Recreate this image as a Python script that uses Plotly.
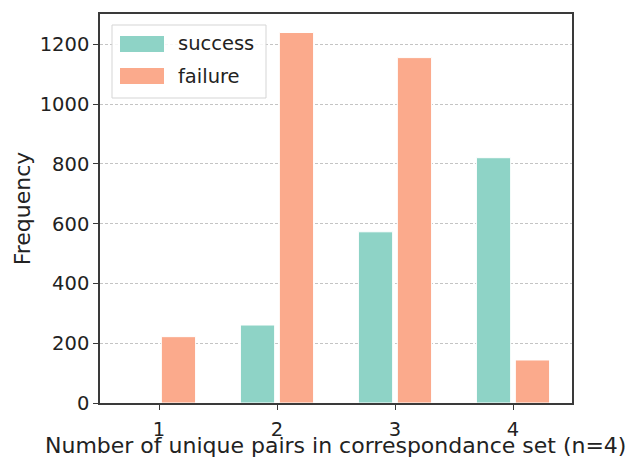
import plotly.graph_objects as go

# Counts of unique pairs in the correspondence set (n=4)
categories = [1, 2, 3, 4]
success = [0, 261, 573, 821]
failure = [222, 1240, 1156, 144]
series_names = ["success", "failure"]
y_ticks = [0, 200, 400, 600, 800, 1000, 1200]
x_title = "Number of unique pairs in correspondance set (n=4)"
y_title = "Frequency"

colors = {"success": "#8ed3c6", "failure": "#fbaa8c"}
font_family = "DejaVu Sans"
text_color = "#222222"
tick_font = dict(family=font_family, size=19.5, color=text_color)
title_font = dict(family=font_family, size=22, color=text_color)

fig = go.Figure()
for name, vals in zip(series_names, [success, failure]):
    fig.add_trace(go.Bar(
        x=categories, y=vals, name=name,
        marker=dict(color=colors[name], line=dict(color="white", width=1)),
        showlegend=False,
    ))

fig.update_layout(
    width=630, height=459,
    margin=dict(l=100, r=58, t=14, b=56),
    paper_bgcolor="white", plot_bgcolor="white",
    barmode="group", bargap=0.34, bargroupgap=0.12,
    font=dict(family=font_family, size=19.5, color=text_color),
)
fig.update_xaxes(
    range=[0.5, 4.5], tickvals=categories, ticktext=[str(c) for c in categories],
    showline=True, linecolor="#3a3a3a", linewidth=1.5, mirror=True,
    ticks="outside", ticklen=5, tickcolor="#3a3a3a", tickwidth=1.2,
    ticklabelstandoff=3, tickfont=tick_font, automargin=False,
    showgrid=False, zeroline=False,
)
fig.update_yaxes(
    range=[0, 1302], tickvals=y_ticks,
    showline=True, linecolor="#3a3a3a", linewidth=1.5, mirror=True,
    ticks="outside", ticklen=5, tickcolor="#3a3a3a", tickwidth=1.2,
    tickfont=tick_font, automargin=False,
    showgrid=True, gridcolor="#c4c4c4", griddash="3px,2px", gridwidth=1,
    zeroline=False,
    title=dict(text=y_title, standoff=3, font=title_font),
)

W, H = 630 - 100 - 58, 459 - 14 - 56

def px(x):
    return (x - 100) / W

def py(y):
    return (459 - 56 - y) / H

# x-axis title placed below the tick labels, anchored to the page bottom
fig.add_annotation(xref="paper", yref="paper", x=px(335), y=py(459),
                   text=x_title, showarrow=False, xanchor="center", yanchor="bottom",
                   borderpad=0, font=title_font)

# Legend box drawn in paper coordinates with wide colour patches
x0, x1 = 112, 266
y0, y1 = 25, 98
fig.add_shape(type="rect", xref="paper", yref="paper",
              x0=px(x0), x1=px(x1), y0=py(y1), y1=py(y0),
              line=dict(color="#d5d5d5", width=1), fillcolor="rgba(255,255,255,0.85)")
for i, name in enumerate(series_names):
    cy = 44 + i * 32
    fig.add_shape(type="rect", xref="paper", yref="paper",
                  x0=px(120), x1=px(164), y0=py(cy + 8), y1=py(cy - 8),
                  line=dict(width=0), fillcolor=colors[name])
    fig.add_annotation(xref="paper", yref="paper", x=px(176), y=py(cy),
                       text=name, showarrow=False, xanchor="left", yanchor="middle",
                       font=dict(family=font_family, size=19.5, color=text_color))

fig.write_html("out.html")
